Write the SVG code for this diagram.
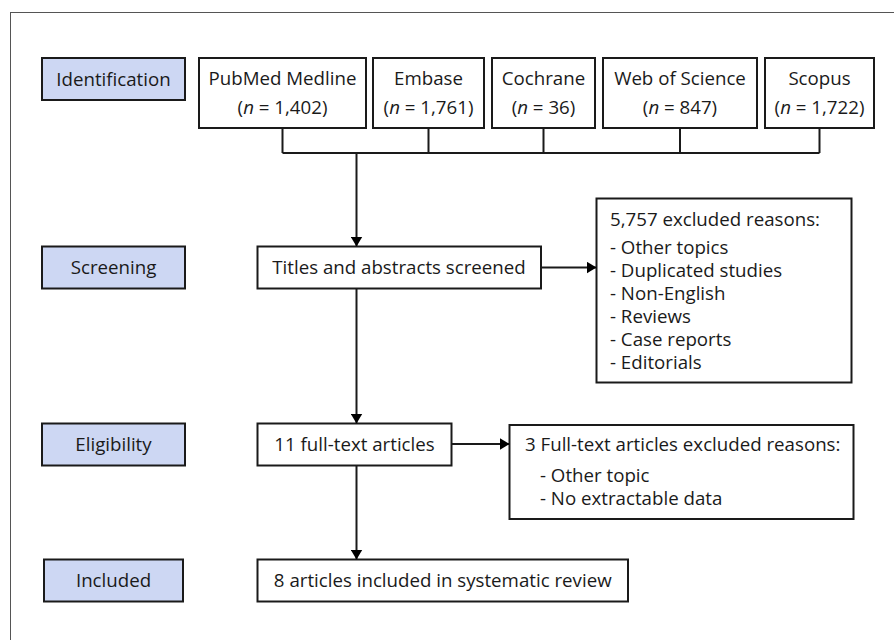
<svg xmlns="http://www.w3.org/2000/svg" width="894" height="640" viewBox="0 0 894 640">
<style>
text{font-family:"Open Sans","Noto Sans","Liberation Sans",sans-serif;font-size:18.7px;fill:#1a1a1a}
.stage{fill:#cdd7f3;stroke:#1a1a1a;stroke-width:2}
.box{fill:#fff;stroke:#1a1a1a;stroke-width:2}
.c{text-anchor:middle}
.ln{fill:none;stroke:#1a1a1a;stroke-width:2}
</style>
<defs>
<marker id="ah" markerWidth="10" markerHeight="12" refX="10" refY="6" orient="auto" markerUnits="userSpaceOnUse">
<path d="M0,0 L10,6 L0,12 Z" fill="#000"/>
</marker>
</defs>
<rect x="10.5" y="12.5" width="900" height="700" fill="#fff" stroke="#555" stroke-width="1"/>

<g id="identification"><rect class="stage" x="42" y="58" width="143" height="42"/><text class="c" x="113.5" y="85.5">Identification</text></g>
<g id="screening"><rect class="stage" x="42" y="246.5" width="143" height="42"/><text class="c" x="113.5" y="274">Screening</text></g>
<g id="eligibility"><rect class="stage" x="42" y="423.5" width="143" height="42"/><text class="c" x="113.5" y="451">Eligibility</text></g>
<g id="included"><rect class="stage" x="44" y="559.5" width="139" height="42"/><text class="c" x="113.5" y="587">Included</text></g>

<g id="pubmed"><rect class="box" x="199" y="58" width="167" height="70"/><text class="c" x="282.5" y="84.5">PubMed Medline</text><text class="c" x="282.5" y="113.5">(<tspan font-style="italic">n</tspan> = 1,402)</text></g>
<g id="embase"><rect class="box" x="373" y="58" width="111" height="70"/><text class="c" x="428.5" y="84.5">Embase</text><text class="c" x="428.5" y="113.5">(<tspan font-style="italic">n</tspan> = 1,761)</text></g>
<g id="cochrane"><rect class="box" x="492" y="58" width="103" height="70"/><text class="c" x="543.5" y="84.5">Cochrane</text><text class="c" x="543.5" y="113.5">(<tspan font-style="italic">n</tspan> = 36)</text></g>
<g id="wos"><rect class="box" x="603" y="58" width="154" height="70"/><text class="c" x="680" y="84.5">Web of Science</text><text class="c" x="680" y="113.5">(<tspan font-style="italic">n</tspan> = 847)</text></g>
<g id="scopus"><rect class="box" x="765" y="58" width="109" height="70"/><text class="c" x="819.5" y="84.5">Scopus</text><text class="c" x="819.5" y="113.5">(<tspan font-style="italic">n</tspan> = 1,722)</text></g>

<g id="titles"><rect class="box" x="257.5" y="246.5" width="283.5" height="42"/><text class="c" x="399" y="274">Titles and abstracts screened</text></g>
<g id="excluded1"><rect class="box" x="596.5" y="198.5" width="255" height="184"/>
<text x="610" y="225.5">5,757 excluded reasons:</text>
<text x="610" y="253.5">- Other topics</text>
<text x="610" y="276.5">- Duplicated studies</text>
<text x="610" y="299.5">- Non-English</text>
<text x="610" y="322.5">- Reviews</text>
<text x="610" y="345.5">- Case reports</text>
<text x="610" y="368.5">- Editorials</text>
</g>
<g id="fulltext"><rect class="box" x="257.5" y="423.5" width="194" height="42"/><text class="c" x="354.5" y="450.5">11 full-text articles</text></g>
<g id="excluded2"><rect class="box" x="509.5" y="425" width="344" height="94"/>
<text x="525" y="450.5">3 Full-text articles excluded reasons:</text>
<text x="540" y="481.5">- Other topic</text>
<text x="540" y="504.5">- No extractable data</text>
</g>
<g id="final"><rect class="box" x="257.5" y="559.5" width="370.5" height="42"/><text class="c" x="442.75" y="587">8 articles included in systematic review</text></g>

<g id="connectors">
<path class="ln" d="M282.5,128 V153 M428.5,128 V153 M543.5,128 V153 M680,128 V153 M819.5,128 V153 M282.5,153 H819.5"/>
<path class="ln" d="M356.5,153 V246.5" marker-end="url(#ah)"/>
<path class="ln" d="M541,267.5 H596.5" marker-end="url(#ah)"/>
<path class="ln" d="M356.5,288.5 V423.5" marker-end="url(#ah)"/>
<path class="ln" d="M451.5,444 H509.5" marker-end="url(#ah)"/>
<path class="ln" d="M356.5,465.5 V559.5" marker-end="url(#ah)"/>
</g>
</svg>
